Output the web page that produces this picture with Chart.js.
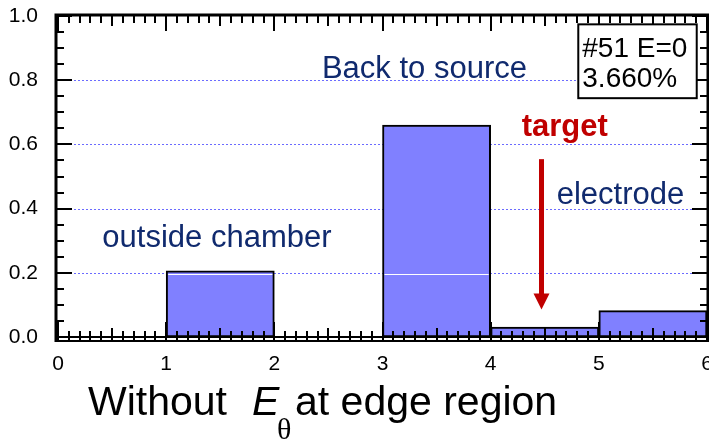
<!DOCTYPE html>
<html>
<head>
<meta charset="utf-8">
<script src="https://cdn.jsdelivr.net/npm/chart.js@4.4.0/dist/chart.umd.min.js"></script>
<style>
  html, body { margin: 0; padding: 0; background: #fff; }
  #wrap { width: 709px; height: 441px; position: relative; }
</style>
</head>
<body>
<div id="wrap"><canvas id="hist"></canvas></div>
<script>
// histogram bins (position index) and the fraction of particles in each
const binStart = [0, 1, 2, 3, 4, 5];
const binEnd = [1, 2, 3, 4, 5, 6];
const fraction = [0, 0.206, 0, 0.660, 0.031, 0.082];
const xTicks = [0, 1, 2, 3, 4, 5, 6];
const yTicks = [0, 0.2, 0.4, 0.6, 0.8, 1.0];

const FONT = "'Liberation Sans', Arial, Helvetica, sans-serif";
const NAVY = '#102a6e';
const RED = '#c00000';

// text notes placed in data coordinates
const notes = [
  { text: 'Back to source', x: 2.44, y: 0.806 },
  { text: 'outside chamber', x: 0.41, y: 0.281 },
  { text: 'electrode', x: 4.61, y: 0.414 }
];

const histFrame = {
  id: 'histFrame',
  beforeDatasetsDraw(chart) {
    const { ctx, chartArea: a, scales: { y } } = chart;
    ctx.save();
    ctx.strokeStyle = '#6b6bff';
    ctx.lineWidth = 1;
    ctx.setLineDash([2, 2]);
    yTicks.forEach(v => {
      if (v <= 0 || v >= 1) return;
      const py = Math.round(y.getPixelForValue(v)) + 0.5;
      ctx.beginPath();
      ctx.moveTo(a.left, py);
      ctx.lineTo(a.right, py);
      ctx.stroke();
    });
    ctx.restore();
  },
  afterDatasetsDraw(chart) {
    const { ctx, chartArea: a, scales: { x, y } } = chart;
    ctx.save();

    // thin white rule at 0.2 inside the taller bars
    const meta = chart.getDatasetMeta(0);
    const y02 = Math.round(y.getPixelForValue(0.2)) + 1.5;
    ctx.strokeStyle = '#fff';
    ctx.lineWidth = 1;
    meta.data.forEach((bar, i) => {
      if (fraction[i] <= 0.2) return;
      const half = bar.width / 2;
      ctx.beginPath();
      ctx.moveTo(bar.x - half + 2, y02);
      ctx.lineTo(bar.x + half - 2, y02);
      ctx.stroke();
    });

    // frame
    ctx.strokeStyle = '#000';
    ctx.lineWidth = 3;
    ctx.beginPath();
    ctx.moveTo(a.left - 2, a.bottom + 5);
    ctx.lineTo(a.left - 2, a.top - 1);
    ctx.lineTo(a.right + 1, a.top - 1);
    ctx.lineTo(a.right + 1, a.bottom + 5);
    ctx.stroke();
    ctx.lineWidth = 2;
    ctx.beginPath();
    ctx.moveTo(a.left - 2, a.bottom);
    ctx.lineTo(a.right + 1, a.bottom);
    ctx.moveTo(a.left - 2, a.bottom + 4);
    ctx.lineTo(a.right + 1, a.bottom + 4);
    ctx.stroke();

    // x ticks every 0.1, top and bottom, pointing inward
    ctx.lineWidth = 2;
    for (let k = 0; k <= 60; k++) {
      const px = Math.round(x.getPixelForValue(k / 10));
      const len = k % 10 === 0 ? 16 : (k % 5 === 0 ? 11 : 8);
      ctx.beginPath();
      ctx.moveTo(px, a.top - 1);
      ctx.lineTo(px, a.top - 1 + len);
      ctx.moveTo(px, a.bottom + 5);
      ctx.lineTo(px, a.bottom + 2 - len + (k % 10 === 0 ? -1 : 0));
      ctx.stroke();
    }
    // y ticks every 0.05, left and right, pointing inward
    for (let k = 0; k <= 20; k++) {
      const py = Math.round(y.getPixelForValue(k / 20));
      const len = k % 4 === 0 ? 16 : 8;
      ctx.beginPath();
      ctx.moveTo(a.left - 2, py);
      ctx.lineTo(a.left - 2 + len, py);
      ctx.moveTo(a.right + 1, py);
      ctx.lineTo(a.right + 1 - len, py);
      ctx.stroke();
    }

    // notes
    ctx.fillStyle = NAVY;
    ctx.font = '31px ' + FONT;
    ctx.textBaseline = 'alphabetic';
    ctx.textAlign = 'left';
    notes.forEach(n => ctx.fillText(n.text, x.getPixelForValue(n.x), y.getPixelForValue(n.y)));

    // target marker
    ctx.fillStyle = RED;
    ctx.font = 'bold 31px ' + FONT;
    ctx.fillText('target', x.getPixelForValue(4.287), y.getPixelForValue(0.625));
    const ax = x.getPixelForValue(4.47);
    const aTop = y.getPixelForValue(0.554);
    const aTip = y.getPixelForValue(0.086);
    ctx.fillRect(ax - 2.5, aTop, 5, aTip - aTop - 14);
    ctx.beginPath();
    ctx.moveTo(ax - 8, aTip - 16);
    ctx.lineTo(ax + 8, aTip - 16);
    ctx.lineTo(ax, aTip);
    ctx.closePath();
    ctx.fill();

    // run info box
    const bx0 = x.getPixelForValue(4.81), bx1 = x.getPixelForValue(5.905);
    const by0 = y.getPixelForValue(0.974), by1 = y.getPixelForValue(0.744);
    ctx.fillStyle = '#fff';
    ctx.fillRect(bx0, by0, bx1 - bx0, by1 - by0);
    ctx.strokeStyle = '#000';
    ctx.lineWidth = 2;
    ctx.strokeRect(bx0, by0, bx1 - bx0, by1 - by0);
    ctx.fillStyle = '#000';
    ctx.font = '28px ' + FONT;
    ctx.fillText('#51 E=0', bx0 + 4, y.getPixelForValue(0.873));
    ctx.fillText('3.660%', bx0 + 4, y.getPixelForValue(0.780));

    ctx.restore();
  },
  afterDraw(chart) {
    const { ctx } = chart;
    ctx.save();
    ctx.fillStyle = '#000';
    ctx.textAlign = 'left';
    ctx.textBaseline = 'alphabetic';
    ctx.font = '41px ' + FONT;
    ctx.fillText('Without', 88, 415);
    ctx.font = 'italic 41px ' + FONT;
    ctx.fillText('E', 252, 415);
    ctx.font = "30px 'Liberation Serif', 'Times New Roman', serif";
    ctx.fillText('\u03B8', 277, 439);
    ctx.font = '41px ' + FONT;
    ctx.fillText('at edge region', 295, 415);
    ctx.restore();
  }
};

new Chart(document.getElementById('hist'), {
  type: 'bar',
  data: {
    datasets: [{
      data: fraction.map((v, i) => ({ x: (binStart[i] + binEnd[i]) / 2, y: v })),
      backgroundColor: 'rgb(128,128,255)',
      borderColor: '#000',
      borderWidth: 2,
      borderSkipped: false,
      barPercentage: 1,
      categoryPercentage: 1
    }]
  },
  options: {
    responsive: true,
    maintainAspectRatio: false,
    animation: false,
    layout: { padding: { top: 16, right: 2, bottom: 64, left: 0 } },
    plugins: { legend: { display: false }, tooltip: { enabled: false } },
    scales: {
      x: {
        type: 'linear',
        min: xTicks[0],
        max: xTicks[xTicks.length - 1],
        offset: false,
        grid: { display: false },
        border: { display: false },
        ticks: {
          stepSize: 1,
          padding: 7,
          color: '#000',
          font: { family: FONT, size: 21 },
          maxRotation: 0
        },
        afterFit(s) { s.height = 40; s.paddingLeft = 0; s.paddingRight = 0; }
      },
      y: {
        min: yTicks[0],
        max: yTicks[yTicks.length - 1],
        grid: { display: false },
        border: { display: false },
        ticks: {
          stepSize: 0.2,
          padding: 12,
          color: '#000',
          font: { family: FONT, size: 21 },
          callback: v => v.toFixed(1)
        },
        afterFit(s) { s.width = 58; s.paddingTop = 0; s.paddingBottom = 0; }
      }
    }
  },
  plugins: [histFrame]
});
</script>
</body>
</html>
